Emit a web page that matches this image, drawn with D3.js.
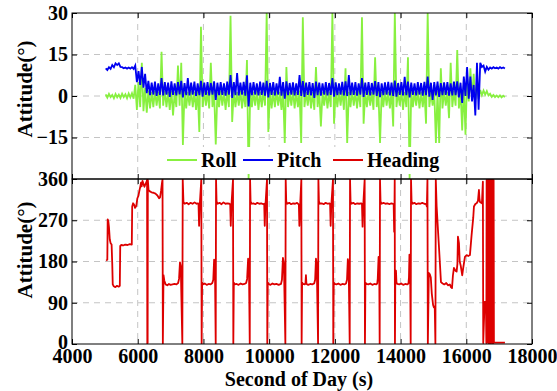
<!DOCTYPE html>
<html><head><meta charset="utf-8">
<script src="https://cdn.jsdelivr.net/npm/d3@7"></script>
<style>
body{margin:0;background:#fff}
svg text{font-family:"Liberation Serif","Times New Roman",serif;font-weight:bold;fill:#000}
</style>
</head><body>
<svg id="c" width="557" height="391" font-family="Liberation Serif, Times New Roman, serif"></svg>
<script>
// ---------- data ----------
const xTicks = [4000, 6000, 8000, 10000, 12000, 14000, 16000, 18000];
const topTicks = [-15, 0, 15, 30];
const headTicks = [0, 90, 180, 270, 360];
const seriesNames = ["Roll", "Pitch", "Heading"];
const seriesColors = ["#88f040", "#0000f0", "#dd0000"];

// roll / pitch: per 100 s bin (starting 5000 s) minimum and maximum
const binStart = 5000, binWidth = 100;
const rollLo = [-0.6,-0.4,-0.8,-0.5,-0.7,-0.4,-0.8,-0.5,-1.0,-5,
 -4,-5.5,-6,-4.5,-4,-3.5,-4.5,-3.5,-4,-5,
 -7,-4,-3.5,-17.7,-4.5,-3.5,-4,-5,-13,-4,
 -3.5,-4.5,-4,-17.5,-4,-3.5,-5,-4,-9.4,-4,
 -3.5,-4.5,-4,-30,-4,-3.5,-5,-4,-3.5,-13,
 -4.5,-4,-3.5,-5,-17,-4,-3.5,-4.5,-4,-17,
 -4,-3.5,-4.5,-5,-4,-11,-3.5,-4.5,-4,-10,
 -4,-3.5,-5,-17,-4,-3.5,-4.5,-4,-10,-4,
 -3.5,-5,-4,-17,-4,-3.5,-4.5,-11,-4,-3.5,
 -5,-4,-30,-4,-3.5,-4.5,-4,-10,-4,-3.5,
 -17,-17,-4.5,-3.5,-8,-4,-3.5,-4.5,-12.5,-14,
 -2,-1,-1.5,-1,0.3,0.5,0.2,-0.3,-0.4,-0.4,
 -0.5,-0.4];
const rollHi = [0.6,0.8,0.4,0.7,0.5,0.8,0.6,0.9,1.0,4,
 5,12,3,2,1.5,2,1.5,16,2,1.5,
 2,1.5,11,12,2,1.5,2,1.5,2,25,
 2,1.5,12,2,1.5,2,1.5,2,29,2,
 1.5,2,1.5,13,2,1.5,2,1.5,2,30,
 2,1.5,2,1.5,2,10.5,1.5,2,1.5,2,
 28.5,1.5,2,1.5,10.5,2,1.5,2,1.5,30,
 2,1.5,2,10,1.5,2,1.5,2,28.5,1.5,
 2,1.5,14,2,1.5,2,1.5,2,30,1.5,
 2,1.5,14,2,1.5,2,1.5,2,30,1.5,
 2,2,10,2,1.5,12,2,16.6,2,4,
 7,10,8,4,2.2,2.0,1.8,0.8,0.4,0.2,
 0.2,0.1];
const pitchLo = [9.4,9.8,10.4,11.2,10.5,10.0,9.9,9.9,9.8,5,
 4,3,1,0.3,0.5,0,0.4,0.2,0.5,-0.3,
 0.4,0.2,0.6,-0.5,0.3,0.2,0.5,0,0.3,-0.2,
 0.4,0.2,0.5,-1.4,0.3,0.4,0.1,0.5,-0.7,0.3,
 0.2,0.5,0.1,-3.8,0.3,0.5,0.2,0.4,0.1,-0.5,
 0.4,0.2,0.5,0.1,-1,0.3,0.5,0.2,0.4,0,
 -0.3,0.4,0.2,-0.7,0.3,0.1,0.5,0.2,0.4,-0.2,
 0.3,0.5,0.2,0,0.3,0.4,0.1,0.5,-0.3,0.4,
 0.2,0.5,0,-0.4,0.3,0.5,0.2,0,-0.2,0.4,
 0.2,0.3,-0.5,0.4,0.2,0.5,0.1,0.3,-0.2,-1.4,
 0.2,-0.3,0.3,0.4,0.1,0.2,0.3,-0.5,-2.5,0,
 -1,-2,-7,-5,10.5,8.8,9.5,9.9,10.0,9.9,
 10.0,9.9];
const pitchHi = [10.0,10.4,11.2,11.8,11.8,10.4,10.3,10.3,10.4,11,
 9,10.5,8,5.5,4.8,5.2,4.6,6.5,5,4.8,
 5.3,4.6,5.0,5.5,4.7,6.5,4.8,5.2,4.6,5.5,
 4.8,5.0,4.7,5.3,4.8,5.0,4.6,5.2,7.6,5.0,
 8.3,4.8,5.1,7.5,4.8,5.0,4.6,5.2,4.8,5.5,
 4.7,5.0,4.6,6.9,5.0,5.3,4.7,4.9,4.6,7.6,
 5.4,4.8,5.0,4.7,5.2,4.8,4.6,5.0,4.7,6.5,
 4.9,4.6,5.1,5.3,7.6,4.8,5.0,4.6,6.5,4.8,
 5.0,4.7,5.4,5.0,4.6,4.9,5.1,4.8,5.6,4.7,
 5.0,6.9,5.2,4.8,4.6,5.0,4.7,5.1,7.0,4.8,
 5.0,5.2,4.7,4.9,5.0,4.6,5.2,5.3,4.8,7,
 10.5,7,4,12,12,11,10.5,10.3,10.4,10.3,
 10.4,10.3];

// heading samples [second of day, degrees]
const heading = [
[5040,182],[5075,184],[5086,272],[5105,268],[5125,255],[5150,228],[5175,220],[5205,217],[5225,175],[5240,130],
[5270,126],[5320,124],[5370,127],[5420,125],[5455,127],[5468,214],[5500,216],[5560,215],[5620,217],[5690,216],
[5760,218],[5820,217],[5832,300],[5860,307],[5890,304],[5920,297],[5955,301],[5990,318],[6020,323],[6050,334],
[6080,344],[6100,352],[6120,344],[6145,356],[6175,349],[6205,343],[6235,349],[6265,353],[6285,358],[6292,1],
[6302,2],[6308,358],[6330,336],[6370,333],[6420,331],[6480,330],[6540,328],[6600,324],[6650,318],[6680,320],
[6710,334],[6740,352],[6755,359],[6765,1],[6785,150],[6810,138],[6850,130],[6900,128],[6950,131],[7000,129],
[7060,130],[7120,131],[7180,130],[7230,133],[7258,142],[7286,178],[7310,170],[7358,1],[7370,359],[7392,310],
[7430,306],[7490,308],[7550,305],[7610,308],[7670,306],[7730,309],[7790,306],[7830,307],
[7850,306],[7868,258],[7885,300],[7935,359],[7946,1],[7960,134],[7985,130],
[8040,132],[8100,129],[8160,131],[8220,130],[8270,133],
[8300,140],[8325,184],[8350,172],[8374,1],[8384,359],[8400,311],[8430,306],
[8490,308],[8550,305],[8610,309],[8670,306],[8730,307],[8790,306],
[8815,305],[8832,258],[8850,300],[8900,359],[8910,1],[8925,134],[8950,130],
[9010,131],[9070,129],[9130,132],[9190,130],[9250,131],[9300,133],
[9330,142],[9360,186],[9385,172],[9410,1],[9420,359],[9435,311],[9465,306],
[9520,307],[9580,305],[9640,308],[9700,306],[9760,307],[9820,305],
[9850,306],[9866,258],[9885,300],[9935,359],[9944,1],[9958,134],[9985,131],
[10040,129],[10100,132],[10160,130],[10220,131],[10290,129],[10360,131],
[10390,140],[10420,188],[10450,174],[10494,1],[10504,359],[10520,311],[10550,306],
[10610,308],[10670,305],[10730,307],[10790,306],[10850,308],[10890,305],
[10905,304],[10920,258],[10940,298],[10980,359],[10989,1],[11003,134],[11030,131],
[11080,130],[11105,132],[11120,150],[11135,131],[11190,129],[11250,131],[11310,130],[11370,132],
[11400,140],[11425,186],[11450,172],[11489,1],[11499,359],[11515,311],[11545,306],
[11600,307],[11660,305],[11720,308],[11780,306],[11830,307],
[11855,306],[11872,258],[11890,300],[11943,359],[11952,1],[11966,134],[11995,131],
[12050,130],[12110,132],[12170,129],[12230,131],[12290,130],[12340,132],
[12370,140],[12395,185],[12420,172],[12452,1],[12462,359],[12478,311],[12505,306],
[12560,308],[12620,305],[12680,307],[12740,306],[12800,307],
[12825,306],[12843,256],[12862,300],[12907,359],[12916,1],[12930,134],[12960,131],
[13020,130],[13080,132],[13140,129],[13200,131],[13260,130],[13290,132],
[13305,142],[13330,190],[13350,176],[13364,1],[13374,359],[13390,311],[13420,306],
[13480,308],[13540,306],[13600,307],[13660,305],[13720,307],[13770,306],
[13790,304],[13805,245],[13815,300],[13822,359],[13829,1],[13840,150],[13860,160],[13875,134],[13900,131],
[13960,130],[14020,132],[14080,129],[14140,131],[14200,130],[14240,132],
[14255,145],[14270,195],[14290,178],[14308,1],[14318,359],[14335,311],[14365,306],
[14420,308],[14480,305],[14540,307],[14600,306],[14660,308],[14720,306],[14780,305],[14800,300],
[14818,359],[14830,1],[14860,155],[14890,152],[14920,145],[14950,110],[14990,85],[15015,80],[15040,82],[15060,1],[15072,359],
[15098,300],[15137,250],[15170,210],[15198,175],[15229,135],[15280,132],[15330,130],[15390,133],[15450,128],[15500,130],
[15533,124],[15565,122],[15594,150],[15624,166],[15670,160],[15706,158],[15730,175],[15746,234],[15777,220],[15800,180],
[15828,172],[15877,150],[15907,166],[15959,190],[16010,194],[16060,192],[16111,194],[16162,238],[16211,275],[16233,300],
[16280,306],[16315,307],[16355,312],[16385,336],[16400,318],[16415,310],[16476,307],[16505,354],[16516,2],[16558,92],
[16598,92],[16610,2],[16619,358],[16628,5],[16640,358],[16652,3],[16664,359],[16676,2],[16688,357],[16700,1],
[16712,359],[16724,2],[16736,358],[16748,1],[16760,359],[16772,3],[16784,358],[16796,2],[16808,359],[16820,1],
[16832,358],[16841,3],[17176,3]
];

// ---------- layout ----------
const FONT = "Liberation Serif, Times New Roman, serif";
const svg = d3.select("#c");
const L = 72, R = 532, T1 = 13, B1 = 179, T2 = 179, B2 = 344;
const x = d3.scaleLinear().domain([4000, 18000]).range([L, R]);
const yTop = d3.scaleLinear().domain([-30, 30]).range([B1, T1]);
const yBot = d3.scaleLinear().domain([0, 360]).range([B2, T2]);

const defs = svg.append("defs");
defs.append("clipPath").attr("id", "cp1").append("rect").attr("x", L).attr("y", T1).attr("width", R - L).attr("height", B1 - T1);
defs.append("clipPath").attr("id", "cp2").append("rect").attr("x", L).attr("y", T2).attr("width", R - L).attr("height", B2 - T2);

// grid
const grid = svg.append("g").attr("stroke", "#c4c4c4").attr("stroke-width", 1).attr("stroke-dasharray", "6,5");
const gx = xTicks.slice(1, -1);
gx.forEach(v => {
  grid.append("line").attr("x1", x(v)).attr("x2", x(v)).attr("y1", T1).attr("y2", B1);
  grid.append("line").attr("x1", x(v)).attr("x2", x(v)).attr("y1", T2).attr("y2", B2);
});
topTicks.filter(v => v > -30 && v < 30).forEach(v => grid.append("line").attr("x1", L).attr("x2", R).attr("y1", yTop(v)).attr("y2", yTop(v)));
headTicks.filter(v => v > 0 && v < 360).forEach(v => grid.append("line").attr("x1", L).attr("x2", R).attr("y1", yBot(v)).attr("y2", yBot(v)));

// data
function zig(lo, hi) {
  const pts = [];
  lo.forEach((l, i) => {
    const t0 = binStart + i * binWidth;
    pts.push([t0 + 25, hi[i]], [t0 + 75, l]);
  });
  return pts;
}
const lineTop = d3.line().x(d => x(d[0])).y(d => yTop(d[1]));
const lineBot = d3.line().x(d => x(d[0])).y(d => yBot(d[1]));
const g1 = svg.append("g").attr("clip-path", "url(#cp1)");
g1.append("path").attr("d", lineTop(zig(rollLo, rollHi))).attr("fill", "none").attr("stroke", seriesColors[0]).attr("stroke-width", 1.8);
g1.append("path").attr("d", lineTop(zig(pitchLo, pitchHi))).attr("fill", "none").attr("stroke", seriesColors[1]).attr("stroke-width", 1.8);
const g2 = svg.append("g").attr("clip-path", "url(#cp2)");
g2.append("path").attr("d", lineBot(heading)).attr("fill", "none").attr("stroke", seriesColors[2]).attr("stroke-width", 1.8).attr("stroke-linejoin", "round");

// legend
const leg = svg.append("g");
leg.append("rect").attr("x", 160).attr("y", 147).attr("width", 286).attr("height", 27).attr("fill", "#fff");
const legX = [167, 243, 333];
seriesNames.forEach((n, i) => {
  leg.append("line").attr("x1", legX[i]).attr("x2", legX[i] + 30).attr("y1", 160).attr("y2", 160)
    .attr("stroke", seriesColors[i]).attr("stroke-width", 2);
  leg.append("text").attr("x", legX[i] + 34).attr("y", 166.5).attr("font-size", 20).text(n);
});

// frames
svg.append("rect").attr("x", L).attr("y", T1).attr("width", R - L).attr("height", B1 - T1).attr("fill", "none").attr("stroke", "#000").attr("stroke-width", 1);
svg.append("rect").attr("x", L).attr("y", T2).attr("width", R - L).attr("height", B2 - T2).attr("fill", "none").attr("stroke", "#000").attr("stroke-width", 1);

// axes (inward ticks)
function styleAxis(g) {
  g.attr("font-family", FONT).attr("font-size", 20);
  g.select(".domain").remove();
  g.selectAll("line").attr("stroke", "#000");
  g.selectAll("text").attr("font-size", 20).attr("font-family", FONT).attr("font-weight", "bold");
}
svg.append("g").attr("transform", `translate(${L},0)`).call(d3.axisLeft(yTop).tickValues(topTicks).tickSize(-5).tickPadding(4)).call(styleAxis);
svg.append("g").attr("transform", `translate(${R},0)`).call(d3.axisRight(yTop).tickValues(topTicks).tickSize(-5).tickFormat("")).call(styleAxis);
const gLeftBot = svg.append("g").attr("transform", `translate(${L},0)`).call(d3.axisLeft(yBot).tickValues(headTicks).tickSize(-5).tickPadding(4)).call(styleAxis);
svg.append("g").attr("transform", `translate(${R},0)`).call(d3.axisRight(yBot).tickValues(headTicks).tickSize(-5).tickFormat("")).call(styleAxis);
svg.append("g").attr("transform", `translate(0,${T1})`).call(d3.axisTop(x).tickValues(xTicks).tickSize(-5).tickFormat("")).call(styleAxis);
svg.append("g").attr("transform", `translate(0,${B1})`).call(d3.axisBottom(x).tickValues(xTicks).tickSize(-5).tickFormat("")).call(styleAxis);
svg.append("g").attr("transform", `translate(0,${T2})`).call(d3.axisTop(x).tickValues(xTicks).tickSize(-5).tickFormat("")).call(styleAxis);
svg.append("g").attr("transform", `translate(0,${B2})`).call(d3.axisBottom(x).tickValues(xTicks).tickSize(-5).tickPadding(5).tickFormat(d3.format("d"))).call(styleAxis);
// lift the bottom "0" slightly as in the reference
gLeftBot.selectAll(".tick").filter(d => d === 0).select("text").attr("dy", "0.2em");

// titles
svg.append("text").attr("transform", "translate(32,89) rotate(-90)").attr("text-anchor", "middle").attr("font-size", 21).text("Attitude(°)");
svg.append("text").attr("transform", "translate(32,250) rotate(-90)").attr("text-anchor", "middle").attr("font-size", 21).text("Attitude(°)");
svg.append("text").attr("x", 299).attr("y", 386).attr("text-anchor", "middle").attr("font-size", 20).text("Second of Day (s)");
</script>
</body></html>
